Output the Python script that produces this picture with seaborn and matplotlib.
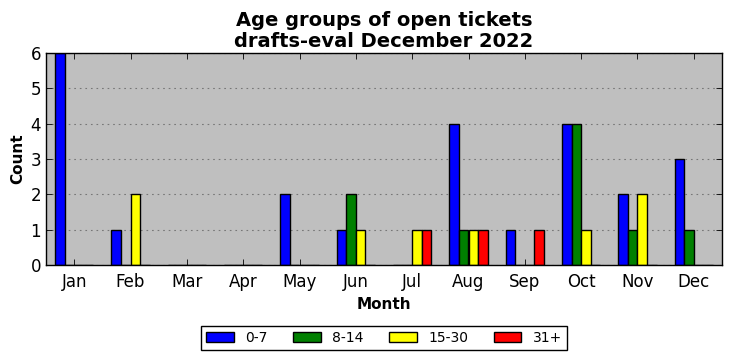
import pandas as pd
import seaborn as sns
import matplotlib.pyplot as plt

months = ['Jan', 'Feb', 'Mar', 'Apr', 'May', 'Jun',
          'Jul', 'Aug', 'Sep', 'Oct', 'Nov', 'Dec']
groups = ['0-7', '8-14', '15-30', '31+']
age_0_7 = [6, 1, 0, 0, 2, 1, 0, 4, 1, 4, 2, 3]
age_8_14 = [0, 0, 0, 0, 0, 2, 0, 1, 0, 4, 1, 1]
age_15_30 = [0, 2, 0, 0, 0, 1, 1, 1, 0, 1, 2, 0]
age_31_plus = [0, 0, 0, 0, 0, 0, 1, 1, 1, 0, 0, 0]
colors = {'0-7': 'blue', '8-14': 'green', '15-30': 'yellow', '31+': 'red'}

series = [age_0_7, age_8_14, age_15_30, age_31_plus]
rows = []
for g, vals in zip(groups, series):
    for m, v in zip(months, vals):
        rows.append({'Month': m, 'Count': v, 'Age': g})
data = pd.DataFrame(rows)

sns.set_style('ticks', {'axes.facecolor': '#bfbfbf', 'axes.edgecolor': 'black',
                        'xtick.direction': 'in', 'ytick.direction': 'in',
                        'text.color': 'black', 'axes.labelcolor': 'black',
                        'xtick.color': 'black', 'ytick.color': 'black'})
plt.rcParams['font.family'] = ['DejaVu Sans']
plt.rcParams['lines.scale_dashes'] = False

fig, ax = plt.subplots(figsize=(7.32, 3.61), dpi=100)
fig.subplots_adjust(left=46 / 732, right=722 / 732, top=1 - 53 / 361, bottom=1 - 265 / 361)

sns.barplot(data=data, x='Month', y='Count', hue='Age', order=months,
            hue_order=groups, palette=colors, width=0.68, edgecolor='black',
            linewidth=1, saturation=1, ax=ax, legend=True)

ax.set_xlim(-0.5, 11.5)
ax.set_ylim(0, 6)
ax.set_yticks(range(0, 7))
ax.yaxis.grid(True, linestyle=(0, (1.2, 2.8)), color='#777777', linewidth=0.8)
ax.set_axisbelow(True)
ax.tick_params(axis='both', which='both', direction='in', top=True, right=True,
               labelsize=12, length=4, width=0.6, color='black', labelcolor='black')
ax.tick_params(axis='x', pad=6)
for s in ax.spines.values():
    s.set_linewidth(1)
    s.set_color('black')

ax.set_title('Age groups of open tickets\ndrafts-eval December 2022',
             fontsize=14, fontweight='bold', linespacing=1.15, color='black', pad=4)
ax.set_xlabel('Month', fontsize=11, fontweight='bold', color='black')
ax.set_ylabel('Count', fontsize=11, fontweight='bold', color='black')

leg = ax.legend(loc='upper center', bbox_to_anchor=(0.5, -0.255), ncol=4,
                fancybox=False, frameon=True, edgecolor='black', facecolor='white',
                framealpha=1, fontsize=10, handlelength=2.0, handleheight=0.7,
                columnspacing=1.85, borderpad=0.35, handletextpad=0.8)
leg.get_frame().set_linewidth(1)

plt.savefig('out.png', dpi=100)
